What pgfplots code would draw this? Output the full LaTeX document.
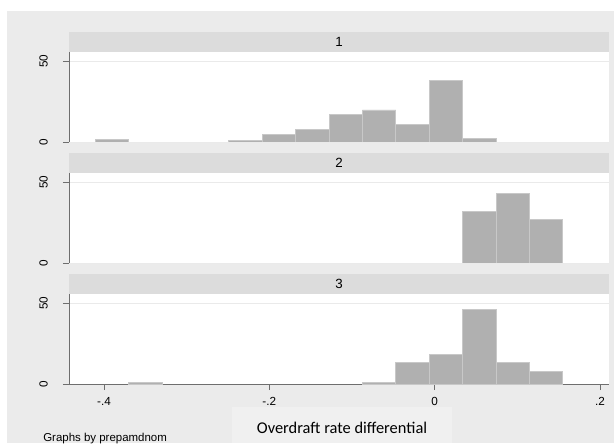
\documentclass[border=0pt]{standalone}
\usepackage{pgfplots}
\pgfplotsset{compat=1.18}
\usepackage{fontspec}
\setmainfont{Liberation Sans}
\newfontfamily\calibri{Carlito}

\definecolor{outerbg}{HTML}{EBEBEB}
\definecolor{strip}{HTML}{DCDCDC}
\definecolor{barfill}{HTML}{B0B0B0}
\definecolor{baredge}{HTML}{C8C8C8}
\definecolor{axisgray}{HTML}{6E6E6E}
\definecolor{gridgray}{HTML}{EAEAEA}
\definecolor{labelbox}{HTML}{F0F0F0}

% percent histograms of the overdraft rate differential, bins of width 0.0404
\pgfplotsset{
  panel/.style={
    scale only axis, width=405pt, height=67.5pt,
    xmin=-0.4423, xmax=0.2109, ymin=0, ymax=55.6,
    axis background/.style={fill=white},
    axis y line*=left,
    axis line style={axisgray, line width=0.6pt, -},
    ytick={0,50}, yticklabels={0,50},
    yticklabel style={rotate=90, anchor=south, inner sep=0pt,
                      font=\fontsize{8.8}{10}\selectfont},
    yticklabel shift=11.25pt,
    tick align=outside, major tick length=4.5pt,
    tick style={axisgray, line width=0.6pt},
    ymajorgrids, grid style={gridgray, line width=0.6pt},
    xtick={-0.4,-0.2,0,0.2}, xticklabels={-.4,-.2,0,.2},
  },
  hist/.style={ybar interval, fill=barfill, draw=baredge, line width=0.6pt},
}

\begin{document}
\begin{tikzpicture}
  % page and outer panel
  \path[use as bounding box, fill=white] (0pt,0pt) rectangle (460.5pt,332.25pt);
  \fill[outerbg] (5.25pt,0pt) rectangle (460.5pt,324pt);
  \fill[labelbox] (174pt,0pt) rectangle (339pt,27pt);

  % group 1
  \begin{axis}[panel, at={(51.75pt,225.75pt)}, anchor=south west,
               axis x line=none]
    \addplot[hist] coordinates {(-0.4105,1.3) (-0.3701,0)};
    \addplot[hist] coordinates {(-0.2489,1.2) (-0.2085,4.9) (-0.1681,7.5)
      (-0.1277,16.9) (-0.0873,19.8) (-0.0469,11.0) (-0.0065,38.0)
      (0.0339,2.0) (0.0743,0)};
  \end{axis}

  % group 2
  \begin{axis}[panel, at={(51.75pt,135pt)}, anchor=south west,
               axis x line=none]
    \addplot[hist] coordinates {(0.0339,32.0) (0.0743,42.7) (0.1147,26.9)
      (0.1551,0)};
  \end{axis}

  % group 3
  \begin{axis}[panel, at={(51.75pt,44.25pt)}, anchor=south west,
               axis x line*=bottom,
               xticklabel style={inner sep=0pt, anchor=north,
                                 font=\fontsize{8.8}{10}\selectfont},
               xticklabel shift=5pt]
    \addplot[hist] coordinates {(-0.3701,1.2) (-0.3297,0)};
    \addplot[hist] coordinates {(-0.0873,1.2) (-0.0469,13.2) (-0.0065,18.5)
      (0.0339,45.9) (0.0743,13.4) (0.1147,7.9) (0.1551,0)};
  \end{axis}

  % group header strips
  \fill[strip] (51.75pt,293.25pt) rectangle (456.75pt,308.25pt);
  \fill[strip] (51.75pt,202.5pt) rectangle (456.75pt,217.5pt);
  \fill[strip] (51.75pt,111.75pt) rectangle (456.75pt,126.75pt);
  \node[font=\fontsize{10}{12}\selectfont] at (254.25pt,300.75pt) {1};
  \node[font=\fontsize{10}{12}\selectfont] at (254.25pt,210pt) {2};
  \node[font=\fontsize{10}{12}\selectfont] at (254.25pt,119.25pt) {3};

  % axis title and note
  \node[font=\calibri\fontsize{12.3}{14}\selectfont] at (256.5pt,11.25pt)
    {Overdraft rate differential};
  \node[anchor=west, inner sep=0pt, font=\fontsize{8.6}{10}\selectfont]
    at (32.25pt,3pt) {Graphs by prepamdnom};
\end{tikzpicture}
\end{document}
